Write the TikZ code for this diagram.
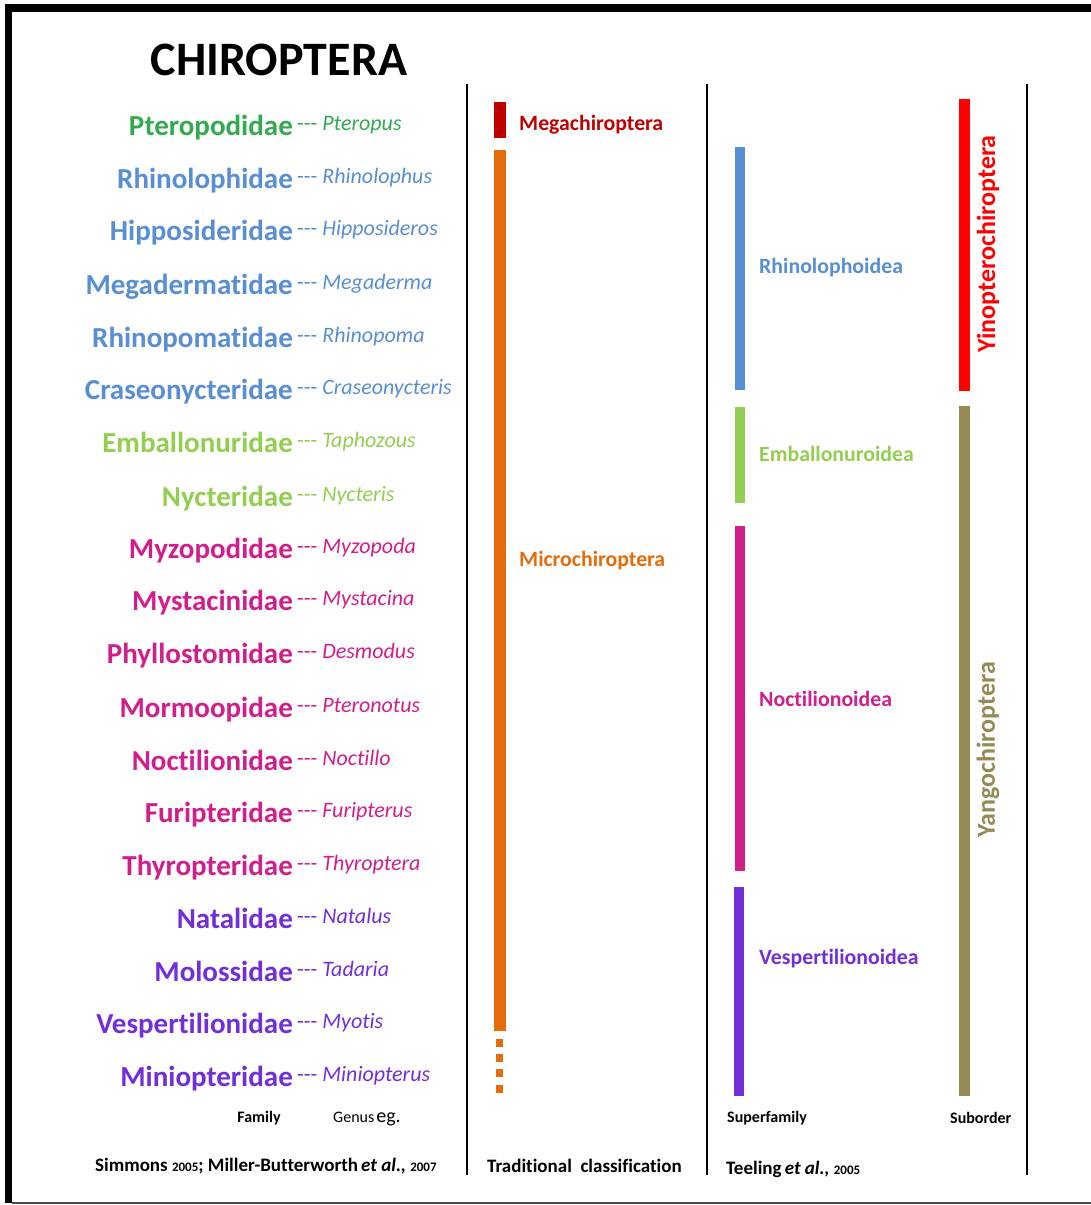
\documentclass[tikz,border=0pt]{standalone}
\usepackage{fontspec}
\setmainfont[Ligatures = {TeX, NoCommon, NoContextual}]{Carlito}
\definecolor{ptgreen}{RGB}{50,170,80}
\definecolor{rhblue}{RGB}{88,142,212}
\definecolor{emgreen}{RGB}{146,206,80}
\definecolor{nomagenta}{RGB}{210,30,140}
\definecolor{vepurple}{RGB}{114,46,216}
\definecolor{megared}{RGB}{192,0,0}
\definecolor{microorange}{RGB}{228,108,10}
\definecolor{yinred}{RGB}{255,0,0}
\definecolor{yangolive}{RGB}{148,138,84}
\newcommand{\yr}{\fontsize{13}{13}\selectfont}
\tikzset{
	famname/.style = {font = \fontsize{29}{29}\selectfont\bfseries, inner sep = 0pt, anchor = base east},
	genname/.style = {font = \fontsize{22}{22}\selectfont, inner sep = 0pt, anchor = base west},
	grouplabel/.style = {font = \fontsize{21.8}{21.8}\selectfont\bfseries, inner sep = 0pt, anchor = west},
	subordlabel/.style = {font = \fontsize{26}{26}\selectfont\bfseries, inner sep = 0pt, rotate = 90},
	footlabel/.style = {font = \fontsize{16}{16}\selectfont\bfseries, inner sep = 0pt},
	reflabel/.style = {font = \fontsize{19}{19}\selectfont\bfseries, inner sep = 0pt, anchor = base west},
	divider/.style = {line width = 2.2pt}
}
\begin{document}
\begin{tikzpicture}[x = 1pt, y = -1pt]
	\useasboundingbox (0, 0) rectangle (1091, 1205);
	\fill [black] (5, 4) rectangle (1091, 12);
	\fill [black] (5, 4) rectangle (12, 1203);
	\draw [line width = 2pt, black!70] (12, 1203) -- (1091, 1203);
	\node [font = \fontsize{48}{48}\selectfont\bfseries, inner sep = 0pt] (title) at (279, 60) {CHIROPTERA};
	\foreach \x in {467, 707, 1027}{
		\draw [divider] (\x, 84) -- (\x, 1175);}
	\foreach \y/\fam/\gen/\col [count = \i] in {135/Pteropodidae/Pteropus/ptgreen, 188/Rhinolophidae/Rhinolophus/rhblue, 240/Hipposideridae/Hipposideros/rhblue, 294/Megadermatidae/Megaderma/rhblue, 347/Rhinopomatidae/Rhinopoma/rhblue, 399/Craseonycteridae/Craseonycteris/rhblue, 452/Emballonuridae/Taphozous/emgreen, 506/Nycteridae/Nycteris/emgreen, 558/Myzopodidae/Myzopoda/nomagenta, 610/Mystacinidae/Mystacina/nomagenta, 663/Phyllostomidae/Desmodus/nomagenta, 717/Mormoopidae/Pteronotus/nomagenta, 770/Noctilionidae/Noctillo/nomagenta, 822/Furipteridae/Furipterus/nomagenta, 875/Thyropteridae/Thyroptera/nomagenta, 928/Natalidae/Natalus/vepurple, 981/Molossidae/Tadaria/vepurple, 1033/Vespertilionidae/Myotis/vepurple, 1086/Miniopteridae/Miniopterus/vepurple}{
		\node [famname, text = \col] (fam\i) at (293, \y) {\fam};
		\node [genname, text = \col] (gen\i) at ([xshift = 4pt, yshift = 5pt] fam\i.base east) {-{}-{}- \textit{\gen}};}
	\fill [megared] (494, 102) rectangle (506, 138);
	\node [grouplabel, text = megared] (mega) at (519, 125) {Megachiroptera};
	\fill [microorange] (494, 150) rectangle (506, 1031);
	\foreach \y in {1039, 1054, 1069, 1085}{
		\fill [microorange] (496, \y) rectangle (503, \y + 8);}
	\node [grouplabel, text = microorange] (micro) at (519, 561) {Microchiroptera};
	\fill [rhblue] (735, 147) rectangle (745, 390);
	\node [grouplabel, text = rhblue] (rhino) at (759, 268) {Rhinolophoidea};
	\fill [emgreen] (735, 407) rectangle (745, 503);
	\node [grouplabel, text = emgreen] (emba) at (759, 454) {Emballonuroidea};
	\fill [nomagenta] (735, 526) rectangle (745, 871);
	\node [grouplabel, text = nomagenta] (noct) at (759, 699) {Noctilionoidea};
	\fill [vepurple] (734, 887) rectangle (744, 1096);
	\node [grouplabel, text = vepurple] (vesp) at (759, 959) {Vespertilionoidea};
	\fill [yinred] (959, 99) rectangle (970, 391);
	\node [subordlabel, text = yinred] (yino) at (988, 244) {Yinopterochiroptera};
	\fill [yangolive] (959, 406) rectangle (970, 1096);
	\node [subordlabel, text = yangolive] (yango) at (988, 750) {Yangochiroptera};
	\node [footlabel] (famhead) at (259, 1118) {Family};
	\node [footlabel, anchor = west, font = \fontsize{16}{16}\selectfont] (genhead) at (333, 1119) {Genus\hspace{2pt}{\fontsize{20}{20}\selectfont eg.}};
	\node [footlabel, anchor = west] (superhead) at (727, 1118) {Superfamily};
	\node [footlabel, anchor = west] (subhead) at (950, 1118) {Suborder};
	\node [reflabel] (simref) at (95, 1171) {Simmons {\yr 2005}; Miller-Butterworth\,\textit{et al.,} {\yr 2007}};
	\node [reflabel] (tradref) at (487, 1172) {Traditional\ \ classification};
	\node [reflabel] (teelref) at (726, 1174) {Teeling\,\textit{et al.,} {\yr 2005}};
\end{tikzpicture}
\end{document}
